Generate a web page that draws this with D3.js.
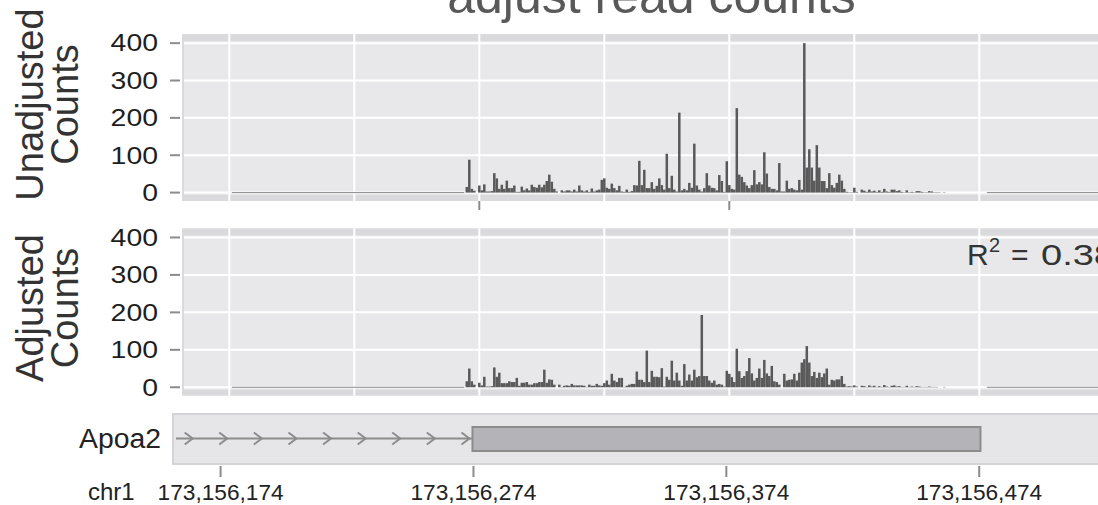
<!DOCTYPE html>
<html>
<head>
<meta charset="utf-8">
<script src="https://cdn.jsdelivr.net/npm/d3@7/dist/d3.min.js"></script>
<style>
  html, body { margin: 0; padding: 0; background: #fff; }
  svg { display: block; font-family: "Liberation Sans", Arial, sans-serif; }
</style>
</head>
<body>
<svg id="chart" width="1098" height="505"></svg>
<script>
// Per-base read counts starting at binStart (one value per base)
const binStart = 173156275;
const unadjusted = [
  15, 88, 10, 5, 0, 19, 6, 22, 3, 3, 4, 52, 38, 10, 21, 10, 32, 12, 12, 19,
  2, 2, 16, 6, 11, 6, 21, 15, 13, 21, 14, 21, 31, 48, 29, 10, 3, 0, 6, 3,
  6, 6, 3, 8, 3, 19, 6, 3, 6, 2, 11, 3, 6, 8, 34, 38, 13, 10, 24, 12,
  6, 18, 3, 2, 8, 2, 4, 20, 19, 85, 20, 61, 12, 12, 28, 10, 18, 38, 20, 8,
  104, 12, 45, 8, 3, 214, 6, 10, 6, 26, 13, 131, 19, 8, 3, 12, 52, 19, 13, 12,
  6, 47, 31, 2, 84, 20, 10, 8, 226, 48, 42, 28, 19, 12, 20, 60, 22, 28, 22, 108,
  51, 15, 10, 10, 6, 79, 3, 3, 32, 10, 12, 8, 6, 34, 8, 400, 67, 116, 67, 32,
  127, 67, 31, 31, 12, 52, 20, 13, 26, 48, 32, 10, 2, 1, 1, 13, 2, 0, 8, 5,
  2, 8, 3, 5, 2, 6, 2, 10, 3, 2, 8, 8, 4, 6, 2, 1, 6, 1, 2, 1,
  4, 4, 2, 1, 1, 4, 3, 1, 1, 1, 0, 1
];
const adjusted = [
  16, 50, 16, 7, 0, 12, 5, 28, 2, 2, 3, 53, 28, 39, 11, 11, 11, 16, 14, 14,
  25, 4, 12, 12, 14, 7, 7, 11, 11, 14, 14, 47, 12, 21, 20, 7, 0, 7, 1, 4,
  5, 4, 9, 5, 5, 5, 5, 4, 1, 7, 4, 4, 9, 5, 4, 11, 18, 7, 36, 18,
  14, 25, 25, 1, 4, 7, 9, 9, 42, 20, 20, 14, 98, 14, 44, 28, 28, 27, 51, 2,
  28, 20, 71, 18, 39, 18, 4, 62, 18, 34, 18, 47, 27, 30, 193, 30, 30, 18, 12, 18,
  7, 9, 7, 2, 44, 36, 27, 14, 103, 43, 25, 30, 43, 78, 37, 18, 25, 50, 25, 73,
  37, 30, 57, 16, 14, 7, 0, 36, 18, 20, 21, 36, 18, 39, 66, 75, 110, 66, 30, 41,
  25, 39, 27, 37, 50, 7, 20, 18, 21, 21, 30, 9, 2, 3, 2, 5, 2, 0, 4, 3,
  1, 5, 2, 4, 1, 3, 1, 6, 2, 1, 4, 5, 2, 3, 1, 1, 4, 1, 2, 1,
  3, 2, 1, 1, 1, 2, 1, 1, 1, 0, 0, 1
];
// Stretches with coverage but no reads (drawn as a flat baseline)
const zeroRuns = [[173156181, 173156274], [173156483, 173156560]];

// Panel axis
const panelMajor = [173156180, 173156280, 173156380, 173156480];
const panelMinor = [173156230, 173156330, 173156430, 173156530];
const panelTicks = [173156280, 173156380];
const yTicks = [0, 100, 200, 300, 400];

// Gene model
const geneName = "Apoa2";
const chrom = "chr1";
const intron = [173156140, 173156274];
const exon = [173156273.6, 173156474.5];
const trackTicks = [173156174, 173156274, 173156374, 173156474];
const r2Value = "0.38";

const svg = d3.select("#chart");
const panelBg = "#e8e8ea";
const panelEdge = "#dadadc";
const barFill = "#595959";
const tickGray = "#8c8c8c";

const xPanel = d3.scaleLinear().domain([173156161, 173156561]).range([181.8, 1181.8]);
const xTrack = d3.scaleLinear().domain([173156174, 173156474]).range([220.6, 979.2]);

const panels = [
  { title: ["Unadjusted", "Counts"], values: unadjusted, top: 34, bottom: 201, ticks: true, titleY: 104.5 },
  { title: ["Adjusted", "Counts"], values: adjusted, top: 228.3, bottom: 395.7, ticks: false, titleY: 308 }
];

panels.forEach(p => {
  const y = d3.scaleLinear().domain([-22.5, 424.5]).range([p.bottom, p.top]);
  const g = svg.append("g");
  const x0 = 182, x1 = 1200;

  g.append("rect").attr("x", x0).attr("y", p.top).attr("width", x1 - x0)
    .attr("height", p.bottom - p.top).attr("fill", panelEdge);
  g.append("rect").attr("x", x0 + 2).attr("y", p.top + 7).attr("width", x1 - x0)
    .attr("height", p.bottom - p.top - 13).attr("fill", panelBg);

  // grid
  g.selectAll(".hg").data(yTicks).join("line")
    .attr("x1", x0 + 2).attr("x2", x1).attr("y1", d => y(d)).attr("y2", d => y(d))
    .attr("stroke", "#fff").attr("stroke-width", 2);
  g.selectAll(".vg").data(panelMajor.concat(panelMinor)).join("line")
    .attr("x1", d => xPanel(d)).attr("x2", d => xPanel(d))
    .attr("y1", p.top).attr("y2", p.bottom)
    .attr("stroke", "#fff").attr("stroke-width", 2);

  // baseline where there is coverage without reads
  g.selectAll(".zr").data(zeroRuns).join("line")
    .attr("x1", d => xPanel(d[0])).attr("x2", d => xPanel(d[1]))
    .attr("y1", y(0)).attr("y2", y(0))
    .attr("stroke", "#8a8a8a").attr("stroke-width", 1);

  // bars
  g.selectAll(".bar").data(p.values).join("rect")
    .attr("x", (d, i) => xPanel(binStart + i - 0.5))
    .attr("width", xPanel(1) - xPanel(0))
    .attr("y", d => y(d))
    .attr("height", d => Math.max(0, y(0) - y(d)))
    .attr("fill", barFill);

  // y axis
  const ya = g.append("g");
  ya.selectAll("line").data(yTicks).join("line")
    .attr("x1", 170).attr("x2", 180).attr("y1", d => y(d)).attr("y2", d => y(d))
    .attr("stroke", tickGray).attr("stroke-width", 2);
  ya.selectAll("text").data(yTicks).join("text")
    .attr("x", 158).attr("y", d => y(d)).attr("dy", "0.36em")
    .attr("text-anchor", "end").attr("font-size", 23).attr("fill", "#1e1e1e")
    .attr("textLength", d => String(d).length * 15.8)
    .attr("lengthAdjust", "spacingAndGlyphs")
    .text(d => d);

  // y title
  p.title.forEach((t, j) => {
    g.append("text")
      .attr("transform", `translate(${43 + j * 35},${p.titleY}) rotate(-90)`)
      .attr("text-anchor", "middle")
      .attr("font-size", 38).attr("fill", "#333").text(t);
  });

  if (p.ticks) {
    g.selectAll(".xt").data(panelTicks).join("line")
      .attr("x1", d => xPanel(d)).attr("x2", d => xPanel(d))
      .attr("y1", p.bottom).attr("y2", p.bottom + 9)
      .attr("stroke", tickGray).attr("stroke-width", 2);
  }
});

// R squared annotation
const r2 = svg.append("g").attr("fill", "#333").attr("font-size", 30);
r2.append("text").attr("x", 967).attr("y", 265).text("R");
r2.append("text").attr("x", 989).attr("y", 252).attr("font-size", 20).text("2");
r2.append("text").attr("x", 1011).attr("y", 265).text("=");
r2.append("text").attr("x", 1041).attr("y", 265)
  .attr("textLength", 74).attr("lengthAdjust", "spacingAndGlyphs").text(r2Value);

// Title
svg.append("text").attr("x", 651.5).attr("y", 13).attr("text-anchor", "middle")
  .attr("font-size", 50).attr("fill", "#595959").text("adjust read counts");

// Gene track
const tk = svg.append("g");
const tTop = 414, tBot = 464;
tk.append("rect").attr("x", 173).attr("y", tTop).attr("width", 1000).attr("height", tBot - tTop)
  .attr("fill", "#e6e6e8").attr("stroke", "#d4d4d6").attr("stroke-width", 2);
const midY = 438.5;
const lineStart = Math.max(176, xTrack(intron[0]));
const exonX = xTrack(exon[0]);
tk.append("line").attr("x1", lineStart).attr("x2", exonX)
  .attr("y1", midY).attr("y2", midY).attr("stroke", tickGray).attr("stroke-width", 2);
// strand chevrons along the intron
const chevrons = d3.range(exonX - 3, lineStart + 10, -34.6);
tk.selectAll(".chev").data(chevrons).join("path")
  .attr("d", d => `M${d - 8},${midY - 6}L${d},${midY}L${d - 8},${midY + 6}`)
  .attr("fill", "none").attr("stroke", tickGray).attr("stroke-width", 2);
tk.append("rect").attr("x", exonX).attr("y", 427)
  .attr("width", xTrack(exon[1]) - exonX).attr("height", 24)
  .attr("fill", "#b4b4b8").attr("stroke", tickGray).attr("stroke-width", 2);
tk.append("text").attr("x", 161).attr("y", midY).attr("dy", "0.36em")
  .attr("text-anchor", "end").attr("font-size", 27).attr("fill", "#222")
  .attr("textLength", 82).attr("lengthAdjust", "spacingAndGlyphs").text(geneName);

tk.selectAll(".tt").data(trackTicks).join("line")
  .attr("x1", d => xTrack(d)).attr("x2", d => xTrack(d))
  .attr("y1", 466).attr("y2", 477).attr("stroke", tickGray).attr("stroke-width", 2);
tk.selectAll(".tl").data(trackTicks).join("text")
  .attr("x", d => xTrack(d)).attr("y", 499.5)
  .attr("text-anchor", "middle").attr("font-size", 22).attr("fill", "#222")
  .attr("textLength", 126).attr("lengthAdjust", "spacingAndGlyphs")
  .text(d => d3.format(",")(d));
tk.append("text").attr("x", 88).attr("y", 499.5)
  .attr("font-size", 24).attr("fill", "#222").text(chrom);
</script>
</body>
</html>
